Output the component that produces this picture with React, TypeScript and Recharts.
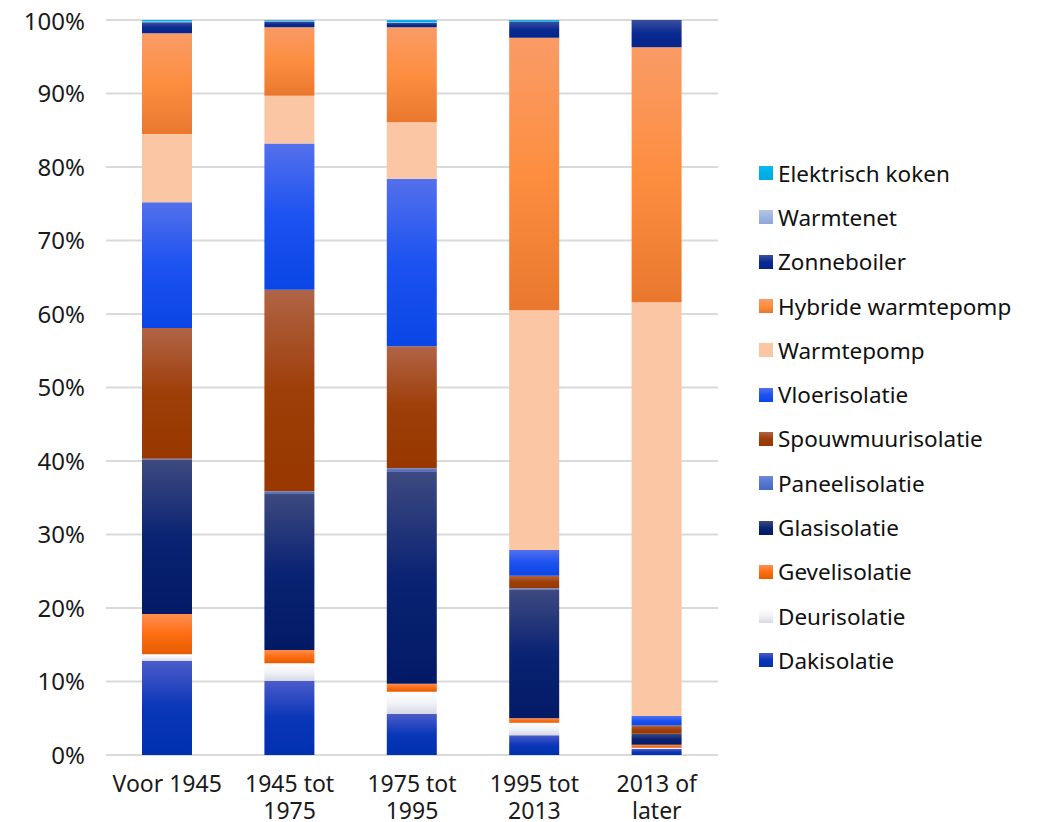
import { BarChart, Bar, XAxis, YAxis, CartesianGrid } from "recharts";

const periods = ["Voor 1945", "1945 tot 1975", "1975 tot 1995", "1995 tot 2013", "2013 of later"];

const dakisolatie = [12.8, 10.1, 5.6, 2.7, 0.8];
const deurisolatie = [0.9, 2.4, 3.0, 1.7, 0.2];
const gevelisolatie = [5.5, 1.8, 1.1, 0.6, 0.4];
const glasisolatie = [21.0, 21.3, 28.9, 17.5, 1.5];
const paneelisolatie = [0.1, 0.3, 0.4, 0.2, 0];
const spouwmuurisolatie = [17.8, 27.4, 16.6, 1.7, 1.1];
const vloerisolatie = [17.1, 19.9, 22.8, 3.5, 1.3];
const warmtepomp = [9.3, 6.5, 7.7, 32.6, 56.3];
const hybrideWarmtepomp = [13.7, 9.3, 12.9, 37.1, 34.7];
const zonneboiler = [1.5, 0.8, 0.6, 2.2, 3.7];
const warmtenet = [0.1, 0.1, 0.1, 0, 0];
const elektrischKoken = [0.2, 0.1, 0.3, 0.2, 0];

const yTicks = [0, 10, 20, 30, 40, 50, 60, 70, 80, 90, 100];

// bottom to top
const series = [
  { key: "dak", name: "Dakisolatie", values: dakisolatie, stops: ["#4b5cc9", "#0a36b8", "#0030b0"] },
  { key: "deur", name: "Deurisolatie", values: deurisolatie, stops: ["#ffffff", "#f2f3f8", "#d6d9e4"] },
  { key: "gevel", name: "Gevelisolatie", values: gevelisolatie, stops: ["#ff8e50", "#ff6e12", "#e45c00"] },
  { key: "glas", name: "Glasisolatie", values: glasisolatie, stops: ["#3e4a80", "#0a2372", "#021a66"] },
  { key: "paneel", name: "Paneelisolatie", values: paneelisolatie, stops: ["#6e8ad8", "#5577cc", "#4668c4"] },
  { key: "spouw", name: "Spouwmuurisolatie", values: spouwmuurisolatie, stops: ["#b06446", "#9e3e08", "#983800"] },
  { key: "vloer", name: "Vloerisolatie", values: vloerisolatie, stops: ["#5470ec", "#1c52f0", "#0a46e6"] },
  { key: "wp", name: "Warmtepomp", values: warmtepomp, stops: ["#fac6a4", "#fac6a4", "#fac6a4"] },
  { key: "hwp", name: "Hybride warmtepomp", values: hybrideWarmtepomp, stops: ["#f99b66", "#fd8e40", "#e9782e"] },
  { key: "zon", name: "Zonneboiler", values: zonneboiler, stops: ["#3a4f9e", "#0a2a92", "#06248a"] },
  { key: "net", name: "Warmtenet", values: warmtenet, stops: ["#b4c4e8", "#a0b4e0", "#90a6d8"] },
  { key: "elek", name: "Elektrisch koken", values: elektrischKoken, stops: ["#10b8f0", "#00b0e8", "#00a8e0"] },
];

const data = periods.map((p, i) => {
  const row: any = { period: p };
  series.forEach(s => {
    row[s.key] = s.values[i];
  });
  return row;
});

const FONT = "'Noto Sans', sans-serif";

const PeriodTick = (props: any) => {
  const { x, y, payload } = props;
  const words = String(payload.value).split(" ");
  const lines = words.length > 2 ? [words.slice(0, 2).join(" "), words.slice(2).join(" ")] : [words.join(" ")];
  return (
    <g transform={`translate(${x},${y})`}>
      {lines.map((l, i) => (
        <text key={i} x={0} y={29 + i * 27} textAnchor="middle" fill="#1a1a1a" fontSize={23} fontFamily={FONT}>
          {l}
        </text>
      ))}
    </g>
  );
};

const LegendList = () => {
  const items = [...series].reverse();
  return (
    <div style={{ position: "absolute", left: 751, top: 143, fontFamily: FONT, fontSize: 22.5, color: "#111" }}>
      {items.map(s => (
        <div key={s.key} style={{ height: 44.3, display: "flex", alignItems: "center", whiteSpace: "nowrap" }}>
          <span
            style={{
              width: 14,
              height: 14,
              marginRight: 5,
              display: "inline-block",
              background: `linear-gradient(${s.stops[0]}, ${s.stops[1]}, ${s.stops[2]})`,
            }}
          />
          <span>{s.name}</span>
        </div>
      ))}
    </div>
  );
};

export default function App() {
  return (
    <div style={{ position: "relative", width: 1030, height: 814 }}>
      <BarChart
        width={1030}
        height={814}
        data={data}
        margin={{ top: 12, right: 320, bottom: 0, left: 0 }}
        barSize={50}
      >
        <defs>
          {series.map(s => (
            <linearGradient key={s.key} id={`g-${s.key}`} x1="0" y1="0" x2="0" y2="1">
              <stop offset="0%" stopColor={s.stops[0]} />
              <stop offset="50%" stopColor={s.stops[1]} />
              <stop offset="100%" stopColor={s.stops[2]} />
            </linearGradient>
          ))}
        </defs>
        <CartesianGrid vertical={false} stroke="#dadada" strokeWidth={2} />
        <XAxis dataKey="period" axisLine={false} tickLine={false} height={67} tick={<PeriodTick />} interval={0} />
        <YAxis
          width={98}
          domain={[0, 100]}
          ticks={yTicks}
          axisLine={false}
          tickLine={false}
          tickMargin={15}
          tickFormatter={(v: number) => `${v}%`}
          tick={{ fill: "#1a1a1a", fontSize: 24, fontFamily: FONT }}
          allowDataOverflow
        />
        {series.map(s => (
          <Bar key={s.key} dataKey={s.key} name={s.name} stackId="a" fill={`url(#g-${s.key})`} isAnimationActive={false} />
        ))}
      </BarChart>
      <LegendList />
    </div>
  );
}
